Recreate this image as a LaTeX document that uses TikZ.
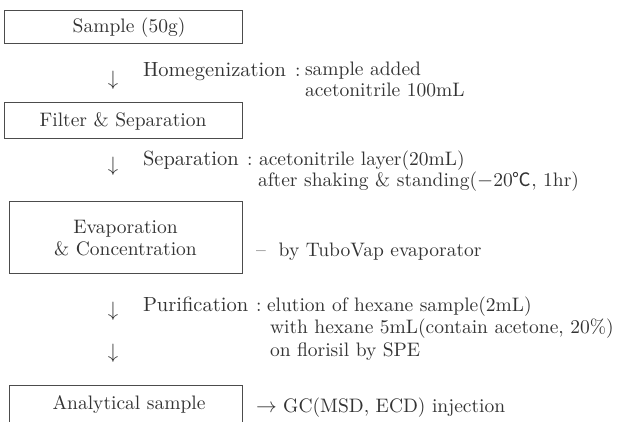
\documentclass[tikz,border=0pt]{standalone}
\usepackage{fontspec}
\setmainfont{lmroman10-regular}[Extension=.otf]
\newfontfamily\cjk{Noto Sans CJK KR}[Scale=0.95]
\begin{document}
\begin{tikzpicture}[x=1pt,y=-1pt,
  every node/.style={font=\fontsize{19.5}{23}\selectfont, inner sep=0pt, outer sep=0pt, text=black!80},
  stepbox/.style={draw=black!70, line width=0.9pt, fill=none},
  lbl/.style={anchor=base west},
  steplbl/.style={anchor=base west, font=\fontsize{20.5}{24}\selectfont},
  ctr/.style={anchor=base},
  arr/.style={anchor=center}]
\useasboundingbox (0,0) rectangle (627,422);
% boxes
\draw[stepbox] (4,10) rectangle (242,43);
\draw[stepbox] (4,102) rectangle (242,138);
\draw[stepbox] (9,201) rectangle (242,273);
\draw[stepbox] (9,385) rectangle (242,430);
\node[ctr] (b1) at (129,33) {Sample (50g)};
\node[ctr] (b2) at (123,127) {Filter \& Separation};
\node[ctr] (b3a) at (125.5,234) {Evaporation};
\node[ctr] (b3b) at (125.5,256) {\& Concentration};
\node[ctr] (b4) at (129,409) {Analytical sample};
% arrows
\node[arr] (a1) at (113,80) {$\downarrow$};
\node[arr] (a2) at (113,166) {$\downarrow$};
\node[arr] (a3) at (113,311) {$\downarrow$};
\node[arr] (a4) at (113,353) {$\downarrow$};
% step 1
\node[steplbl] (h1) at (143,77) {Homegenization};
\node[lbl] (c1) at (295,77) {:};
\node[lbl] (h1a) at (305,76) {sample added};
\node[lbl] (h1b) at (305,97) {acetonitrile 100mL};
% step 2
\node[steplbl] (s2) at (143,166) {Separation};
\node[lbl] (c2) at (247,166) {:};
\node[lbl] (s2a) at (259,166) {acetonitrile layer(20mL)};
\node[lbl] (s2b) at (258,187) {after shaking \& standing($-$20{\cjk ℃}, 1hr)};
% step 3
\node[lbl] (e3) at (256,257) {\textendash\ \ by TuboVap evaporator};
% step 4
\node[steplbl] (p4) at (143,312) {Purification};
\node[lbl] (c4) at (256,312) {:};
\node[lbl] (p4a) at (267,312) {elution of hexane sample(2mL)};
\node[lbl] (p4b) at (270,334) {with hexane 5mL(contain acetone, 20\%)};
\node[lbl] (p4c) at (270,356) {on florisil by SPE};
% step 5
\node[lbl] (g5) at (256,412) {$\rightarrow$ GC(MSD, ECD) injection};
\end{tikzpicture}
\end{document}
